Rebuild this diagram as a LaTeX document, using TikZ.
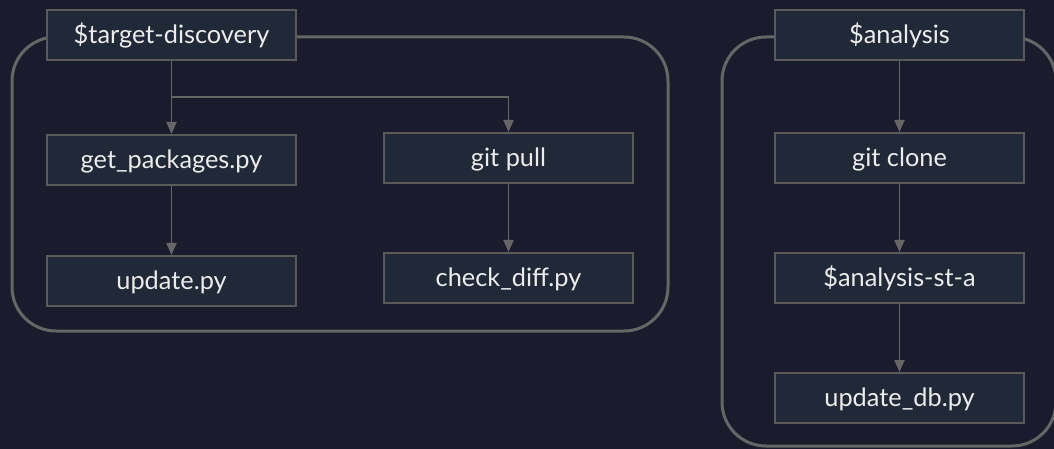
\documentclass[tikz,border=0pt]{standalone}
\usepackage{fontspec}
\setmainfont{Lato}
\usetikzlibrary{arrows.meta}
\definecolor{bg}{HTML}{1B1B2E}
\definecolor{boxfill}{HTML}{212938}
\definecolor{boxline}{HTML}{5A5A5A}
\definecolor{edge}{HTML}{666666}
\definecolor{txt}{HTML}{ECECEC}
\begin{document}
\begin{tikzpicture}[x=0.75pt,y=-0.75pt,
  stepbox/.style={draw=boxline, line width=1.5pt, fill=boxfill, text=txt,
    minimum width=186.75pt, minimum height=37.5pt, inner sep=0pt,
    text height=15pt, text depth=2pt,
    font=\fontsize{19}{22}\selectfont},
  grp/.style={draw=edge, line width=2.25pt, rounded corners=33pt},
  conn/.style={draw=edge, line width=1.4pt, -{Triangle[length=9pt,width=7.5pt]}}]
\useasboundingbox (0,0) rectangle (1054,449);
\fill[bg] (0,0) rectangle (1054,449);
% groups
\draw[grp] (12,37) rectangle (668,331);
\draw[grp] (722,37) rectangle (1056,446);
% nodes
\node[stepbox] (td) at (171.5,35) {\$target-discovery};
\node[stepbox] (gp) at (171.5,160) {get\_packages.py};
\node[stepbox] (up) at (171.5,281) {update.py};
\node[stepbox] (gpull) at (508.5,158) {git pull};
\node[stepbox] (cd) at (508.5,278) {check\_diff.py};
\node[stepbox] (an) at (899.5,35) {\$analysis};
\node[stepbox] (gc) at (899.5,158) {git clone};
\node[stepbox] (sa) at (899.5,278) {\$analysis-st-a};
\node[stepbox] (udb) at (899.5,398) {update\_db.py};
% connectors
\coordinate (br) at (171.5,97);
\draw[conn] (td.south) -- (gp.north);
\draw[conn] (br) -| (gpull.north);
\draw[conn] (gp.south) -- (up.north);
\draw[conn] (gpull.south) -- (cd.north);
\draw[conn] (an.south) -- (gc.north);
\draw[conn] (gc.south) -- (sa.north);
\draw[conn] (sa.south) -- (udb.north);
\end{tikzpicture}
\end{document}
